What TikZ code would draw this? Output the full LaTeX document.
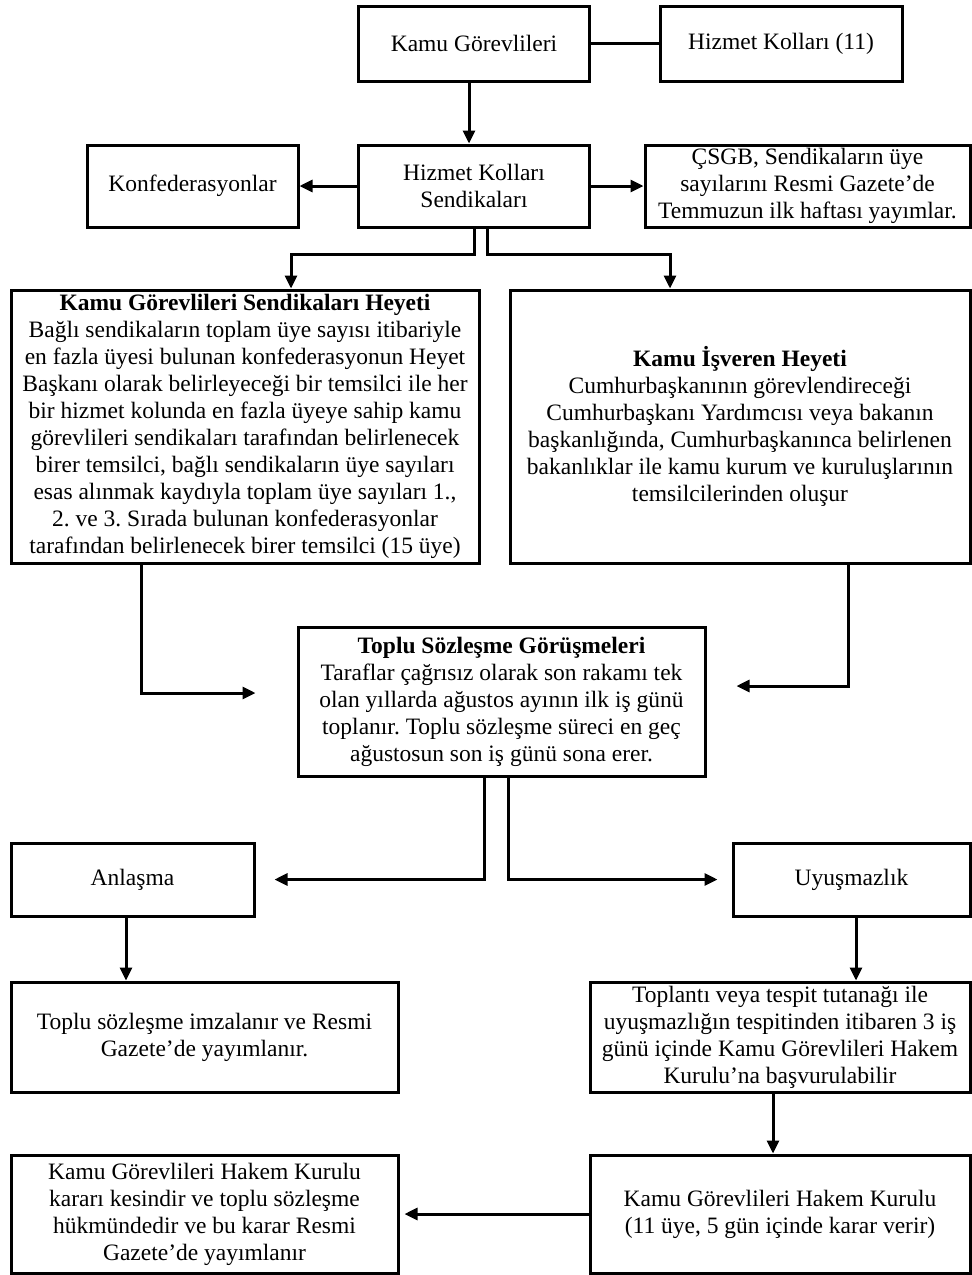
\documentclass[tikz,border=0pt]{standalone}
\usepackage{fontspec}
\setmainfont{Liberation Serif}
\usetikzlibrary{arrows.meta}
\frenchspacing

\tikzset{
	box/.style={draw, line width=3pt, align=center, inner sep=2pt, font=\fontsize{23.5}{27}\selectfont},
	arr/.style={line width=3pt, -{Triangle[length=13pt,width=12pt]}},
	link/.style={line width=3pt},
}

\begin{document}
\begin{tikzpicture}[x=1pt, y=-1pt]
		\useasboundingbox (0,0) rectangle (972,1275);

		% Top row
		\node[box, minimum width=231pt, minimum height=75pt] (kg) at (474,43.5) {Kamu Görevlileri};
		\node[box, minimum width=242pt, minimum height=75pt] (hk) at (781,43.5) {Hizmet Kolları (11)};

		% Second row
		\node[box, minimum width=231pt, minimum height=82pt] (hks) at (474,186) {Hizmet Kolları\\Sendikaları};
		\node[box, minimum width=211pt, minimum height=82pt] (konf) at (192.5,186) {Konfederasyonlar};
		\node[box, minimum width=325pt, minimum height=82pt] (csgb) at (807.5,186) {ÇSGB, Sendikaların üye\\sayılarını Resmi Gazete’de\\Temmuzun ilk haftası yayımlar.};

		% The two committees
		\node[box, minimum width=468pt, minimum height=273pt] (kgsh) at (245,426.5) {\textbf{Kamu Görevlileri Sendikaları Heyeti}\\Bağlı sendikaların toplam üye sayısı itibariyle\\en fazla üyesi bulunan konfederasyonun Heyet\\Başkanı olarak belirleyeceği bir temsilci ile her\\bir hizmet kolunda en fazla üyeye sahip kamu\\görevlileri sendikaları tarafından belirlenecek\\birer temsilci, bağlı sendikaların üye sayıları\\esas alınmak kaydıyla toplam üye sayıları 1.,\\2. ve 3. Sırada bulunan konfederasyonlar\\tarafından belirlenecek birer temsilci (15 üye)};
		\node[box, minimum width=460pt, minimum height=273pt] (kih) at (740,426.5) {\textbf{Kamu İşveren Heyeti}\\Cumhurbaşkanının görevlendireceği\\Cumhurbaşkanı Yardımcısı veya bakanın\\başkanlığında, Cumhurbaşkanınca belirlenen\\bakanlıklar ile kamu kurum ve kuruluşlarının\\temsilcilerinden oluşur};

		% Negotiations
		\node[box, minimum width=407pt, minimum height=149pt] (tsg) at (501.5,701.5) {\textbf{Toplu Sözleşme Görüşmeleri}\\Taraflar çağrısız olarak son rakamı tek\\olan yıllarda ağustos ayının ilk iş günü\\toplanır. Toplu sözleşme süreci en geç\\ağustosun son iş günü sona erer.};

		% Outcomes
		\node[box, minimum width=243pt, minimum height=73pt] (anl) at (132.5,879.5) {Anlaşma};
		\node[box, minimum width=237pt, minimum height=73pt] (uyu) at (851.5,879.5) {Uyuşmazlık};
		\node[box, minimum width=387pt, minimum height=110pt] (imza) at (204.5,1037) {Toplu sözleşme imzalanır ve Resmi\\Gazete’de yayımlanır.};
		\node[box, minimum width=380pt, minimum height=110pt] (topl) at (780,1037) {Toplantı veya tespit tutanağı ile\\uyuşmazlığın tespitinden itibaren 3 iş\\günü içinde Kamu Görevlileri Hakem\\Kurulu’na başvurulabilir};
		\node[box, minimum width=380pt, minimum height=118pt] (hakR) at (780,1214) {Kamu Görevlileri Hakem Kurulu\\(11 üye, 5 gün içinde karar verir)};
		\node[box, minimum width=387pt, minimum height=118pt] (hakL) at (204.5,1214) {Kamu Görevlileri Hakem Kurulu\\kararı kesindir ve toplu sözleşme\\hükmündedir ve bu karar Resmi\\Gazete’de yayımlanır};

		% Connectors
		\draw[link] (kg.east) -- (hk.west);
		\draw[arr] ([xshift=-5pt]kg.south) -- ([xshift=-5pt]hks.north);
		\draw[arr] (hks.west) -- (konf.east);
		\draw[arr] (hks.east) -- (csgb.west);
		\draw[arr] (hks.south) -- ++(0,26) -| ([xshift=46pt]kgsh.north);
		\draw[arr] ([xshift=13pt]hks.south) -- ++(0,26) -| ([xshift=-70pt]kih.north);
		\draw[arr, shorten >=41pt] ([xshift=-104pt]kgsh.south) |- ([yshift=8.5pt]tsg.west);
		\draw[arr, shorten >=30pt] ([xshift=108pt]kih.south) |- ([yshift=15.5pt]tsg.east);
		\draw[arr, shorten >=19pt] ([xshift=-17.5pt]tsg.south) |- (anl.east);
		\draw[arr, shorten >=14pt] ([xshift=6.5pt]tsg.south) |- (uyu.west);
		\draw[arr] ([xshift=-6.5pt]anl.south) -- ([xshift=-6.5pt]anl.south |- imza.north);
		\draw[arr] ([xshift=4.5pt]uyu.south) -- ([xshift=4.5pt]uyu.south |- topl.north);
		\draw[arr] ([xshift=-7pt]topl.south) -- ([xshift=-7pt]topl.south |- hakR.north);
		\draw[arr, shorten >=5pt] (hakR.west) -- (hakL.east);
	\end{tikzpicture}
\end{document}
